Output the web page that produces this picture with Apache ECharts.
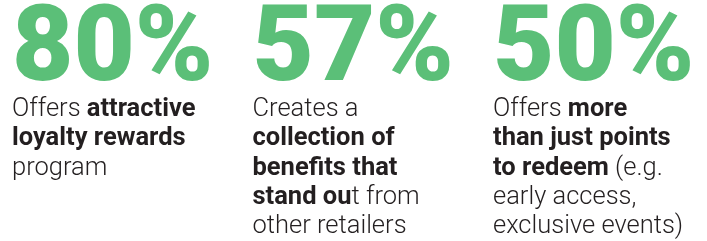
<!DOCTYPE html>
<html><head><meta charset="utf-8">
<script src="https://cdn.jsdelivr.net/npm/echarts@6/dist/echarts.min.js"></script>
<style>html,body{margin:0;padding:0;background:#fff}#c{width:707px;height:241px}</style>
</head><body><div id="c"></div>
<script>
const categories = ['c1', 'c2', 'c3'];
const values = [80, 57, 50];
// each description: lines of [text, style] fragments (r = regular, b = bold)
const desc1 = [[['Offers ', 'r'], ['attractive', 'b']], [['loyalty rewards', 'b']], [['program', 'r']]];
const desc2 = [[['Creates a', 'r']], [['collection of', 'b']], [['benefits that', 'b']], [['stand ou', 'b'], ['t from', 'r']], [['other retailers', 'r']]];
const desc3 = [[['Offers ', 'r'], ['more', 'b']], [['than just points', 'b']], [['to redeem', 'b'], [' (e.g.', 'r']], [['early access,', 'r']], [['exclusive events)', 'r']]];
const descriptions = [desc1, desc2, desc3];

const GREEN = '#5bbf78', DARK = '#231f20';
const chart = echarts.init(document.getElementById('c'), null, {renderer: 'canvas'});
function fmt(i) {
  let s = '{num|' + values[i] + '%}';
  descriptions[i].forEach(line => {
    s += '\n' + line.map(f => '{' + f[1] + '|' + f[0] + '}').join('');
  });
  return s;
}
chart.setOption({
  animation: false,
  grid: {left: 12, right: 214, top: 0, bottom: 0},
  xAxis: {type: 'category', data: categories, show: false, boundaryGap: false},
  yAxis: {type: 'value', min: 0, max: 1, show: false},
  series: [{
    type: 'scatter',
    symbolSize: 0,
    itemStyle: {opacity: 1},
    emphasis: {disabled: true},
    data: values.map((v, i) => ({value: [categories[i], 1]})),
    label: {
      show: true,
      position: [0, 0],
      align: 'left',
      verticalAlign: 'top',
      padding: [11, 0, 0, 0],
      opacity: 1,
      formatter: p => fmt(p.dataIndex),
      rich: {
        num: {fontFamily: 'Roboto', fontWeight: 900, fontSize: 106, color: GREEN, lineHeight: 84, opacity: 1},
        r: {fontFamily: 'Roboto', fontWeight: 300, fontSize: 25.5, color: DARK, lineHeight: 29.3, opacity: 1},
        b: {fontFamily: 'Roboto', fontWeight: 'bold', fontSize: 25.5, color: DARK, lineHeight: 29.3, opacity: 1}
      }
    }
  }]
});
</script></body></html>
